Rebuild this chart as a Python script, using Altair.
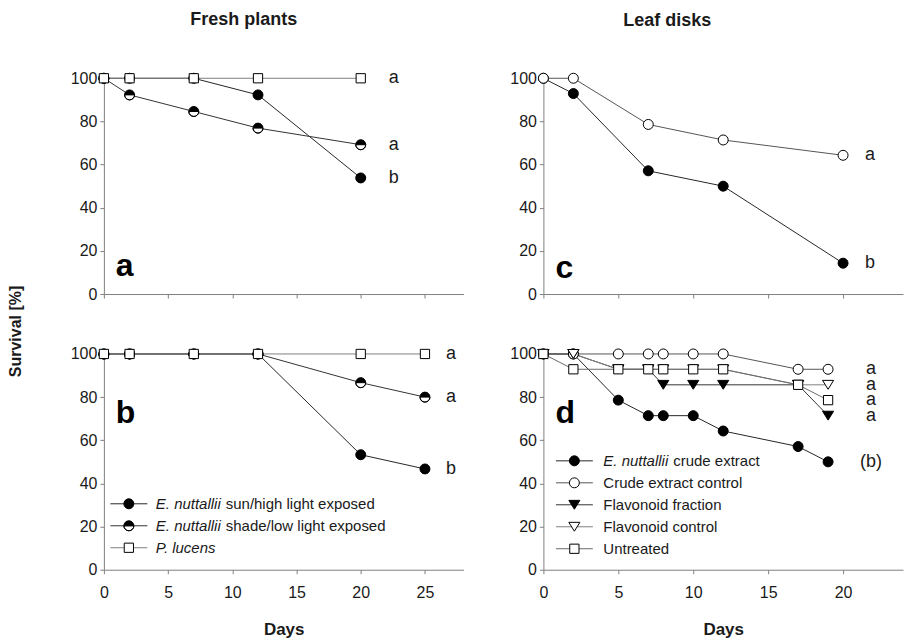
import altair as alt
import pandas as pd

FONT = "Liberation Sans"
INK = "#1a1a1a"
AXC = "#808080"

# ---------------- data: Fresh plants ----------------
fresh_keys = ["E. nuttallii sun/high light exposed",
              "E. nuttallii shade/low light exposed",
              "P. lucens"]
fresh_italic = ["E. nuttallii", "E. nuttallii", "P. lucens"]
fresh_plain = ["sun/high light exposed", "shade/low light exposed", ""]
fresh_letters = ["b", "a", "a"]

a_days = [0, 2, 7, 12, 20]
a_sun = [100, 100, 100, 92.3, 53.8]
a_shade = [100, 92.3, 84.6, 76.9, 69.2]
a_lucens = [100, 100, 100, 100, 100]

b_days = [0, 2, 7, 12, 20, 25]
b_sun = [100, 100, 100, 100, 53.3, 46.7]
b_shade = [100, 100, 100, 100, 86.7, 80.0]
b_lucens = [100, 100, 100, 100, 100, 100]

# ---------------- data: Leaf disks ----------------
leaf_keys = ["E. nuttallii crude extract", "Crude extract control",
             "Flavonoid fraction", "Flavonoid control", "Untreated"]
leaf_italic = ["E. nuttallii", "", "", "", ""]
leaf_plain = ["crude extract", "Crude extract control",
              "Flavonoid fraction", "Flavonoid control", "Untreated"]

c_days = [0, 2, 7, 12, 20]
c_crude = [100, 92.9, 57.1, 50.0, 14.3]
c_control = [100, 100, 78.6, 71.4, 64.3]
c_letters = ["b", "a"]

d_days = [0, 2, 5, 7, 8, 10, 12, 17, 19]
d_crude = [100, 100, 78.6, 71.4, 71.4, 71.4, 64.3, 57.1, 50.0]
d_control = [100, 100, 100, 100, 100, 100, 100, 92.9, 92.9]
d_flav = [100, 100, 92.9, 92.9, 85.7, 85.7, 85.7, 85.7, 71.4]
d_flavctl = [100, 100, 92.9, 92.9, 92.9, 92.9, 92.9, 85.7, 85.7]
d_untreated = [100, 92.9, 92.9, 92.9, 92.9, 92.9, 92.9, 85.7, 78.6]
d_letters = ["(b)", "a", "a", "a", "a"]

# ---------------- marker shapes ----------------
S = 1369  # symbol box 37 px; shapes drawn small inside the unit box


def f(v):
    return f"{v:.3f}"


def circle_path(r):
    k = 0.5523 * r
    return (f"M{f(-r)},0 C{f(-r)},{f(-k)} {f(-k)},{f(-r)} 0,{f(-r)} "
            f"C{f(k)},{f(-r)} {f(r)},{f(-k)} {f(r)},0 "
            f"C{f(r)},{f(k)} {f(k)},{f(r)} 0,{f(r)} "
            f"C{f(-k)},{f(r)} {f(-r)},{f(k)} {f(-r)},0 Z")


def half_path(r):
    k = 0.5523 * r
    top = (f"M{f(-r)},0 C{f(-r)},{f(-k)} {f(-k)},{f(-r)} 0,{f(-r)} "
           f"C{f(k)},{f(-r)} {f(r)},{f(-k)} {f(r)},0 Z ")
    bottom = (f"M{f(r)},0 C{f(r)},{f(k)} {f(k)},{f(r)} 0,{f(r)} "
              f"C{f(-k)},{f(r)} {f(-r)},{f(k)} {f(-r)},0 "
              f"C{f(-r)},{f(k)} {f(-k)},{f(r)} 0,{f(r)} "
              f"C{f(k)},{f(r)} {f(r)},{f(k)} {f(r)},0")
    return top + bottom


def square_path(s):
    return f"M{f(-s)},{f(-s)} L{f(s)},{f(-s)} L{f(s)},{f(s)} L{f(-s)},{f(s)} Z"


def tri_down_path(w, h):
    return f"M{f(-w)},{f(-h)} L{f(w)},{f(-h)} L0,{f(h)} Z"


CIRC = circle_path(0.27)
HALF = half_path(0.27)
SQR = square_path(0.25)
TRI = tri_down_path(0.30, 0.24)

ITALIC_W = 70  # width of "E. nuttallii " at 15 px


def label_expr(keys, labels):
    expr = "''"
    for k, lab in reversed(list(zip(keys, labels))):
        expr = f"datum.value == '{k}' ? '{lab}' : ({expr})"
    return expr


def make_panel(days, vals_list, keys, italic, plain, shapes, fills, line_colors,
               letters, xmax, xticks, tag, tag_y, xlabels, legend_pos, title,
               ytitle, letter_dx, backing):
    rows = []
    for i, (k, vals) in enumerate(zip(keys, vals_list)):
        for d, v in zip(days, vals):
            rows.append(dict(day=d, val=v, series=k, lseries="L|" + k))
    df = pd.DataFrame(rows)
    lkeys = ["L|" + k for k in keys]

    xaxis_kw = dict(values=xticks, labels=xlabels, labelPadding=11,
                    labelFlush=False)
    if xlabels:
        xaxis_kw.update(title="Days", titleFontSize=17, titleFontWeight="bold",
                        titlePadding=21)
    else:
        xaxis_kw.update(title=None)
    yaxis_kw = dict(values=[0, 20, 40, 60, 80, 100], labelPadding=3,
                    labelFlush=False)
    if ytitle:
        yaxis_kw.update(title=ytitle, titleFontSize=16, titleFontWeight="bold",
                        titleX=-88, titleY=253, titleAngle=270,
                        titleAlign="center", titleBaseline="middle")
    else:
        yaxis_kw.update(title=None)

    X = alt.X("day:Q", scale=alt.Scale(domain=[0, xmax], nice=False, zero=True),
              axis=alt.Axis(**xaxis_kw))
    Y = alt.Y("val:Q", scale=alt.Scale(domain=[0, 100], nice=False),
              axis=alt.Axis(**yaxis_kw))

    if legend_pos:
        lx, ly, off = legend_pos
        p_labels = [it if it else pl for it, pl in zip(italic, plain)]
        l_labels = [pl if it else "" for it, pl in zip(italic, plain)]
        ital_keys = [k for k, it in zip(keys, italic) if it]
        style_expr = " || ".join(f"datum.value == '{k}'" for k in ital_keys)
        style_expr = f"({style_expr}) ? 'italic' : 'normal'"
        common = dict(title=None, orient="none", legendX=lx, legendY=ly,
                      symbolSize=S, clipHeight=22, rowPadding=0, padding=0,
                      labelFont=FONT, labelFontSize=15, labelColor=INK,
                      labelLimit=600)
        p_legend = alt.Legend(labelOffset=off,
                              labelExpr=label_expr(keys, p_labels),
                              labelFontStyle={"expr": style_expr},
                              symbolStrokeWidth=1, symbolOpacity=1, **common)
        l_legend = alt.Legend(labelOffset=off + ITALIC_W, symbolType="stroke",
                              labelExpr=label_expr(lkeys, l_labels),
                              symbolStrokeWidth=1, **common)
    else:
        p_legend = None
        l_legend = None

    base = alt.Chart(df)
    lines = base.mark_line(strokeWidth=1).encode(
        x=X, y=Y,
        color=alt.Color("lseries:N", scale=alt.Scale(domain=lkeys, range=line_colors),
                        legend=l_legend),
    )
    layers = [lines]
    if backing:
        back = base.transform_filter(
            alt.FieldOneOfPredicate(field="series", oneOf=backing)
        ).mark_point(shape=CIRC, size=S, filled=True, fill="white",
                     strokeWidth=0, opacity=1).encode(x=X, y=Y)
        layers.append(back)
    pts = base.mark_point(filled=True, size=S, strokeWidth=1,
                          opacity=1).encode(
        x=X, y=Y,
        shape=alt.Shape("series:N", scale=alt.Scale(domain=keys, range=shapes),
                        legend=p_legend),
        fill=alt.Fill("series:N", scale=alt.Scale(domain=keys, range=fills),
                      legend=p_legend),
        stroke=alt.Stroke("series:N",
                          scale=alt.Scale(domain=keys, range=["black"] * len(keys)),
                          legend=p_legend),
    )
    layers.append(pts)

    let_df = pd.DataFrame([dict(day=days[-1], val=vals[-1], letter=l)
                           for vals, l in zip(vals_list, letters)])
    lets = alt.Chart(let_df).mark_text(font=FONT, fontSize=18, color=INK,
                                       align="center", baseline="middle",
                                       dx=letter_dx).encode(
        x="day:Q", y="val:Q", text="letter:N")
    layers.append(lets)

    tag_layer = alt.Chart(pd.DataFrame({"t": [tag]})).mark_text(
        font=FONT, fontSize=32, fontWeight="bold", color="black",
        align="left", baseline="alphabetic").encode(
        text="t:N", x=alt.value(12), y=alt.value(tag_y))
    layers.append(tag_layer)

    props = dict(width=360, height=216)
    if title:
        text, dx = title
        props["title"] = alt.TitleParams(text, font=FONT, fontSize=18,
                                         fontWeight="bold", color=INK,
                                         anchor="middle", frame="group",
                                         dx=dx, offset=40)
    return alt.layer(*layers).properties(**props)


fresh_shapes = [CIRC, HALF, SQR]
fresh_fills = ["black", "black", "white"]
fresh_lines = ["#262626", "#333333", "#808080"]

leaf_shapes = [CIRC, CIRC, TRI, TRI, SQR]
leaf_fills = ["black", "white", "black", "white", "white"]
leaf_lines = ["#262626", "#555555", "#333333", "#808080", "#6a6a6a"]

pa = make_panel(a_days, [a_sun, a_shade, a_lucens], fresh_keys, fresh_italic,
                fresh_plain, fresh_shapes, fresh_fills, fresh_lines,
                fresh_letters, 28, [0, 5, 10, 15, 20, 25], "a", 198, False, None,
                ("Fresh plants", -40), "Survival [%]", 33, [fresh_keys[1]])
pb = make_panel(b_days, [b_sun, b_shade, b_lucens], fresh_keys, fresh_italic,
                fresh_plain, fresh_shapes, fresh_fills, fresh_lines,
                fresh_letters, 28, [0, 5, 10, 15, 20, 25], "b", 69, True,
                (6, 139, 8), None, None, 26, [fresh_keys[1]])
pc = make_panel(c_days, [c_crude, c_control], leaf_keys[:2], leaf_italic[:2],
                leaf_plain[:2], leaf_shapes[:2], leaf_fills[:2], leaf_lines[:2],
                c_letters, 24, [0, 5, 10, 15, 20], "c", 200, False, None,
                ("Leaf disks", -56), None, 27, [])
pd_ = make_panel(d_days, [d_crude, d_control, d_flav, d_flavctl, d_untreated],
                 leaf_keys, leaf_italic, leaf_plain, leaf_shapes, leaf_fills,
                 leaf_lines, d_letters, 24, [0, 5, 10, 15, 20], "d", 69, True,
                 (12, 96, 10), None, None, 43, [])

RS = dict(color="independent", shape="independent", fill="independent",
          stroke="independent", x="independent", y="independent")
RL = dict(color="independent", shape="independent", fill="independent",
          stroke="independent")

chart = alt.concat(
    pa, pc, pb, pd_, columns=2, bounds="flush",
    spacing=alt.RowColnumber(row=60, column=80),
).resolve_scale(**RS).resolve_legend(**RL).properties(
    padding={"left": 7, "top": 10, "right": 0, "bottom": 0},
    background="white",
).configure_view(stroke="transparent").configure_axis(
    domainColor=AXC, tickColor=AXC, tickSize=4, domainWidth=1, tickWidth=1,
    labelFont=FONT, labelFontSize=16, labelColor=INK, titleFont=FONT,
    titleColor=INK, grid=False,
)

chart.save("out.html", embed_options={"renderer": "svg", "actions": False})
